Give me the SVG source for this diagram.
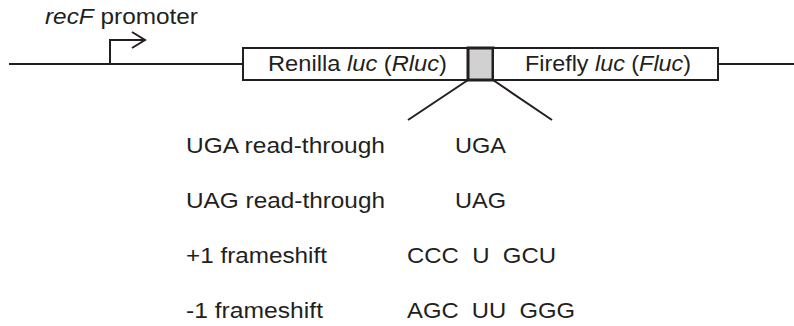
<svg xmlns="http://www.w3.org/2000/svg" width="794" height="326" viewBox="0 0 794 326">
<style>
  .ln { stroke: #231f20; stroke-width: 2; fill: none; }
  .box { fill: #ffffff; stroke: #231f20; stroke-width: 2; }
  .t { font-family: "Liberation Sans", Arial, sans-serif; font-size: 22px; fill: #231f20; }
  .i { font-style: italic; }
</style>
<rect width="794" height="326" fill="#ffffff"/>
<g id="connectors">
  <line class="ln" x1="9" y1="64" x2="243" y2="64"/>
  <line class="ln" x1="718" y1="64" x2="794" y2="64"/>
  <line class="ln" x1="468" y1="80" x2="408" y2="120"/>
  <line class="ln" x1="493" y1="80" x2="552" y2="120"/>
</g>
<g id="promoter">
  <polyline class="ln" points="110,64 110,40 144,40"/>
  <polyline class="ln" points="132,32 145,40 132,48"/>
  <text class="t" x="45" y="24" textLength="153" lengthAdjust="spacingAndGlyphs"><tspan class="i">recF</tspan> promoter</text>
</g>
<g id="rluc">
  <rect class="box" x="243" y="48" width="225" height="32"/>
  <text class="t" x="268" y="71" textLength="179" lengthAdjust="spacingAndGlyphs">Renilla <tspan class="i">luc</tspan> (<tspan class="i">Rluc</tspan>)</text>
</g>
<g id="linker">
  <rect x="468" y="48" width="25" height="32" fill="#d1d1d1" stroke="#231f20" stroke-width="3"/>
</g>
<g id="fluc">
  <rect class="box" x="493" y="48" width="225" height="32"/>
  <text class="t" x="525" y="71" textLength="166" lengthAdjust="spacingAndGlyphs">Firefly <tspan class="i">luc</tspan> (<tspan class="i">Fluc</tspan>)</text>
</g>
<g id="row-uga">
  <text class="t" x="186" y="153" textLength="199" lengthAdjust="spacingAndGlyphs">UGA read-through</text>
  <text class="t" x="455" y="153" textLength="51" lengthAdjust="spacingAndGlyphs">UGA</text>
</g>
<g id="row-uag">
  <text class="t" x="186" y="208" textLength="199" lengthAdjust="spacingAndGlyphs">UAG read-through</text>
  <text class="t" x="455" y="208" textLength="51" lengthAdjust="spacingAndGlyphs">UAG</text>
</g>
<g id="row-plus1">
  <text class="t" x="186" y="263" textLength="141" lengthAdjust="spacingAndGlyphs">+1 frameshift</text>
  <text class="t" x="407" y="263" xml:space="preserve" textLength="149" lengthAdjust="spacingAndGlyphs">CCC  U  GCU</text>
</g>
<g id="row-minus1">
  <text class="t" x="186" y="318" textLength="137" lengthAdjust="spacingAndGlyphs">-1 frameshift</text>
  <text class="t" x="407" y="318" xml:space="preserve" textLength="168" lengthAdjust="spacingAndGlyphs">AGC  UU  GGG</text>
</g>
</svg>
